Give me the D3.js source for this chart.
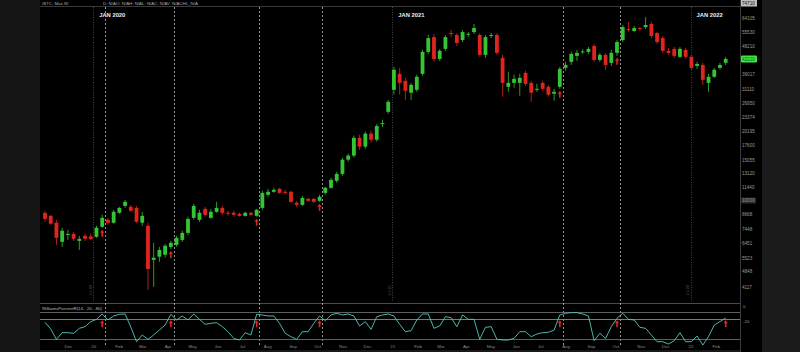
<!DOCTYPE html>
<html>
<head>
<meta charset="utf-8">
<script src="https://cdn.jsdelivr.net/npm/d3@7"></script>
<style>
html, body { margin: 0; padding: 0; background: #000; }
svg { display: block; font-family: "Liberation Sans", Arial, sans-serif; }
</style>
</head>
<body>
<svg width="800" height="352"></svg>
<script>
// weekly bars, first bar = week of Nov 3 2019
var firstWeek = new Date(2019, 10, 3);

var open = [8770,8510,7930,6530,7040,7080,6590,6940,6900,6870,
  7610,8170,7930,8780,9420,9330,9230,7930,7690,5430,
  5610,5720,6200,6330,6660,7150,8340,8170,9140,8340,
  8870,9230,8780,8780,8690,8510,8780,8510,9230,10550,
  10880,11220,10880,10880,9720,9520,10120,10120,9920,10760,
  11330,12170,13060,15100,15740,18870,17250,19700,18500,21720,
  24600,30800,36260,33760,29900,30800,36260,45380,52750,42220,
  46770,54980,53900,51200,54200,55530,53900,44000,53400,53900,
  42700,31760,33060,33060,36630,33060,30800,33060,31760,29600,
  31760,38530,40960,43560,45200,45380,48210,41800,44000,40550,
  44920,51200,57270,56130,57850,58430,60300,54980,52220,45840,
  46770,43130,46300,43130,39300,39700,33060,35180,38530,40550];
var high = [8960,8600,8170,7540,7380,7230,6940,7080,7080,7690,
  8600,8340,9050,9330,10020,9520,9420,8870,7930,6460,
  6200,6400,6590,6940,7310,8430,9620,9050,9330,9140,
  9820,9420,8960,8960,8780,8870,8870,9140,10990,11220,
  11330,11330,11100,10990,9920,10440,10220,10220,10550,11450,
  12540,13330,15410,16060,19310,19500,20090,20300,21720,22700,
  27800,38960,38530,34800,33060,35900,46300,53900,54440,46770,
  53900,56700,54980,56700,55530,60300,54980,53900,54980,54980,
  44000,37060,35900,36260,37420,33760,32730,33760,32400,31110,
  38960,40960,45380,46300,46770,47730,49190,44920,44920,46300,
  51200,59700,61540,59100,58430,64680,61540,55530,53360,47250,
  47730,47730,47250,44000,40960,40550,36260,38530,40550,43130];
var low = [8010,7770,6330,6200,6660,6590,6010,6590,6660,6800,
  7540,7770,7850,8690,9230,8870,7930,7690,3990,4120,
  5320,5550,6070,6200,6530,7010,8170,8010,8430,8250,
  8780,8600,8510,8430,8430,8430,8510,8430,9050,10340,
  10760,10660,10550,9720,9330,9420,9820,9720,9820,10550,
  11220,11930,12800,14800,15410,16700,16870,17950,18130,21070,
  24140,29300,29300,27800,27800,30190,35540,44440,40960,41380,
  45840,52750,48210,50180,52750,54440,43130,42700,52220,44000,
  28700,30190,31450,29000,32080,27250,30190,30500,28700,27520,
  31110,37420,39700,41380,44440,44440,40960,40960,37800,39300,
  43560,50180,55530,55530,56130,57270,52220,49190,44920,44000,
  42700,42700,42220,37800,38150,32400,30190,34800,37800,39700];
var close = [8250,7850,6800,7310,7080,6730,6730,6730,6710,7540,
  8340,7930,8870,9230,9820,8960,8010,8510,4950,5550,
  6010,6270,6460,6800,7150,8250,9420,8780,8600,8870,
  9230,8780,8690,8600,8510,8780,8600,9050,10760,10880,
  11100,10760,10760,9820,9520,10220,9920,9820,10340,11330,
  12290,13060,15100,15740,18870,17250,19700,18500,21290,21940,
  27250,37800,33060,30500,32400,35180,45380,52220,42220,45840,
  52750,54440,49690,55530,54600,57850,44000,52750,53900,44920,
  33060,33060,34450,34800,32730,29900,31110,31110,29300,30190,
  38150,39700,44440,44920,45600,46770,41800,44000,39700,44920,
  50180,58430,56700,57850,57270,59700,53360,50180,45840,44920,
  43560,46770,43130,38530,40100,34100,35180,37800,39700,42220];

var wpr = [-30,-50,-81,-61,-61,-63,-48,-43,-28,-21,
  -5,-23,-11,-6,-5,-44,-88,-68,-81,-68,
  -53,-38,-6,-23,-11,-23,-5,-21,-36,-33,
  -31,-43,-58,-78,-83,-61,-68,-6,-8,-11,
  -11,-33,-63,-73,-81,-58,-58,-33,-11,-25,
  -8,-3,-8,-5,-11,-41,-28,-51,-13,-8,
  -5,-11,-36,-58,-55,-23,-5,-5,-48,-41,
  -13,-16,-43,-8,-21,-21,-81,-45,-43,-81,
  -83,-83,-78,-58,-58,-73,-65,-61,-60,-53,
  -8,-3,-1,-1,-5,-11,-85,-63,-78,-43,
  -18,-3,-21,-23,-45,-48,-68,-88,-88,-95,
  -85,-61,-88,-88,-71,-98,-73,-38,-28,-17];
var wprLevels = [0, -20, -80];

var signalBars = [10, 22, 37, 48, 90, 100];
var wprArrowBars = [10, 22, 37, 48, 90, 100, 119];

var priceTicks = [64105, 55530, 48210, 42278, 36017, 31110, 26950, 23374, 20195, 17600,
  15055, 13120, 11440, 10000, 8668, 7448, 6451, 5523, 4848, 4117];
var yearStarts = [new Date(2020, 0, 1), new Date(2021, 0, 1), new Date(2022, 0, 1)];
var yearLabels = ["JAN 2020", "JAN 2021", "JAN 2022"];

var svg = d3.select("svg");
var up = "#35c435", down = "#e0241e";

var weeks = open.map(function(d, i) { return d3.timeWeek.offset(firstWeek, i); });
var bars = weeks.map(function(w, i) {
  return {date: w, o: open[i], h: high[i], l: low[i], c: close[i], i: i};
});

var x = d3.scaleTime()
    .domain([weeks[0], weeks[weeks.length - 1]])
    .range([45, 725.7]);
var y = d3.scaleLog()
    .domain([4117, 64105])
    .range([287, 18]);
var wy = d3.scaleLinear()
    .domain([-100, 0])
    .range([345.7, 312.3]);

// side panels
svg.append("rect").attr("x", 0).attr("y", 0).attr("width", 40).attr("height", 352).attr("fill", "#151515");
svg.append("rect").attr("x", 762).attr("y", 0).attr("width", 38).attr("height", 352).attr("fill", "#1b1b1b");
svg.append("line").attr("x1", 740.5).attr("x2", 740.5).attr("y1", 0).attr("y2", 352).attr("stroke", "#3a3a3a");
svg.append("line").attr("x1", 40).attr("x2", 740).attr("y1", 6.5).attr("y2", 6.5).attr("stroke", "#3a3a3a");
svg.append("line").attr("x1", 40).attr("x2", 740).attr("y1", 303.5).attr("y2", 303.5).attr("stroke", "#4a4a4a");
svg.append("line").attr("x1", 40).attr("x2", 740).attr("y1", 351).attr("y2", 351).attr("stroke", "#333");

// header
svg.append("text").attr("x", 42).attr("y", 4.8).attr("font-size", 4.4).attr("fill", "#aaa").text("/BTC, Max W");
svg.append("text").attr("x", 103).attr("y", 4.8).attr("font-size", 4.4).attr("fill", "#aaa")
  .text("D: N/AO: N/AH: N/AL: N/AC: N/AV: N/ACHL_N/A");

// year separators
svg.append("g").selectAll("line").data(yearStarts).enter().append("line")
  .attr("x1", function(d) { return Math.round(x(d)) + 0.5; })
  .attr("x2", function(d) { return Math.round(x(d)) + 0.5; })
  .attr("y1", 7).attr("y2", 302)
  .attr("stroke", "#555").attr("stroke-dasharray", "1,1.5").attr("stroke-width", 0.8);
svg.append("g").selectAll("text").data(yearStarts).enter().append("text")
  .attr("transform", function(d) { return "translate(" + (x(d) - 1.5) + ",296) rotate(-90)"; })
  .attr("font-size", 4).attr("fill", "#555")
  .text(d3.timeFormat("%-m/%-d/%y"));
svg.append("g").selectAll("text").data(yearStarts).enter().append("text")
  .attr("x", function(d) { return x(d) + 6; })
  .attr("y", 16.5)
  .attr("font-size", 5.8).attr("font-weight", "bold").attr("fill", "#eee")
  .text(function(d, i) { return yearLabels[i]; });

// signal lines
svg.append("g").selectAll("line").data(signalBars).enter().append("line")
  .attr("x1", function(d) { return Math.round(x(weeks[d]) + 2.7) + 0.5; })
  .attr("x2", function(d) { return Math.round(x(weeks[d]) + 2.7) + 0.5; })
  .attr("y1", 7).attr("y2", 346)
  .attr("stroke", "#bbb").attr("stroke-width", 0.8).attr("stroke-dasharray", "2,2");

// price axis
var yAxis = svg.append("g")
  .attr("transform", "translate(740,0)")
  .call(d3.axisRight(y).tickValues(priceTicks).tickSize(0).tickPadding(2).tickFormat(d3.format("d")));
yAxis.select(".domain").remove();
yAxis.selectAll("text").attr("font-size", 4.6).attr("fill", "#9a9a9a").attr("font-family", "Liberation Sans, Arial, sans-serif");
yAxis.selectAll(".tick").filter(function(d) { return d === 10000; })
  .insert("rect", "text").attr("x", 1).attr("y", -3).attr("width", 15).attr("height", 6).attr("fill", "#2a2a2a");

var topVal = Math.round(y.invert(3));
svg.append("rect").attr("x", 741).attr("y", 0).attr("width", 16).attr("height", 6.5).attr("fill", "#bdbdbd");
svg.append("text").attr("x", 742).attr("y", 5).attr("font-size", 4.6).attr("fill", "#111").text(topVal);

// candles
var candles = svg.append("g").selectAll("g").data(bars).enter().append("g");
candles.append("line")
  .attr("x1", function(d) { return x(d.date); })
  .attr("x2", function(d) { return x(d.date); })
  .attr("y1", function(d) { return y(d.h); })
  .attr("y2", function(d) { return y(d.l); })
  .attr("stroke", function(d) { return d.c >= d.o ? up : down; })
  .attr("stroke-width", 0.8);
candles.append("rect")
  .attr("x", function(d) { return x(d.date) - 1.9; })
  .attr("width", 3.8)
  .attr("y", function(d) { return y(Math.max(d.o, d.c)); })
  .attr("height", function(d) { return Math.max(1, Math.abs(y(d.o) - y(d.c))); })
  .attr("fill", function(d) { return d.c >= d.o ? up : down; });

function arrowPath(cx, top) {
  return "M" + cx + "," + top + "L" + (cx + 2.2) + "," + (top + 3) + "L" + (cx + 0.8) + "," + (top + 3) +
    "L" + (cx + 0.8) + "," + (top + 7) + "L" + (cx - 0.8) + "," + (top + 7) + "L" + (cx - 0.8) + "," + (top + 3) +
    "L" + (cx - 2.2) + "," + (top + 3) + "Z";
}
svg.append("g").selectAll("path").data(signalBars).enter().append("path")
  .attr("d", function(d) { return arrowPath(x(weeks[d]), y(low[d]) + 2); })
  .attr("fill", down);

// last price tag
var last = close[close.length - 1];
svg.append("rect").attr("x", 741).attr("y", y(last) - 3.5).attr("width", 16).attr("height", 7).attr("rx", 1)
  .attr("fill", "#3ee63e");
svg.append("text").attr("x", 742).attr("y", y(last) + 1.7).attr("font-size", 4.6).attr("fill", "#063").text(last);

// Williams %R panel
svg.append("text").attr("x", 42).attr("y", 309.8).attr("font-size", 4.4).attr("fill", "#bbb")
  .text("WilliamsPercentR(14, -20, -80)");
svg.append("g").selectAll("line").data(wprLevels).enter().append("line")
  .attr("x1", 40).attr("x2", 740)
  .attr("y1", function(d) { return Math.round(wy(d)) + 0.5; })
  .attr("y2", function(d) { return Math.round(wy(d)) + 0.5; })
  .attr("stroke", function(d) { return d === -20 ? "#999" : "#777"; })
  .attr("stroke-width", 0.8);
svg.append("text").attr("x", 743).attr("y", wy(0) - 4.5).attr("font-size", 4.4).attr("fill", "#9a9a9a").text("0");
svg.append("text").attr("x", 743).attr("y", wy(-20) + 4.5).attr("font-size", 4.4).attr("fill", "#9a9a9a").text("-20");

var line = d3.line()
  .x(function(d, i) { return x(weeks[i]); })
  .y(function(d) { return wy(d); });
svg.append("path").datum(wpr).attr("d", line)
  .attr("fill", "none").attr("stroke", "#55c9c0").attr("stroke-width", 0.9);

svg.append("g").selectAll("path").data(wprArrowBars).enter().append("path")
  .attr("d", function(d) { return arrowPath(x(weeks[d]), wy(-24)); })
  .attr("fill", down);

// time axis
var months = d3.timeMonth.range(new Date(2019, 11, 1), new Date(2022, 2, 1));
var xAxis = svg.append("g")
  .attr("transform", "translate(0,346)")
  .call(d3.axisBottom(x).tickValues(months).tickSize(0).tickPadding(0)
    .tickFormat(function(d) { return d.getMonth() === 0 ? d3.timeFormat("%y")(d) : d3.timeFormat("%b")(d); }));
xAxis.select(".domain").remove();
xAxis.selectAll("text").attr("font-size", 4.4).attr("fill", "#8a8a8a").attr("dy", "0.55em")
  .attr("font-family", "Liberation Sans, Arial, sans-serif");
</script>
</body>
</html>
